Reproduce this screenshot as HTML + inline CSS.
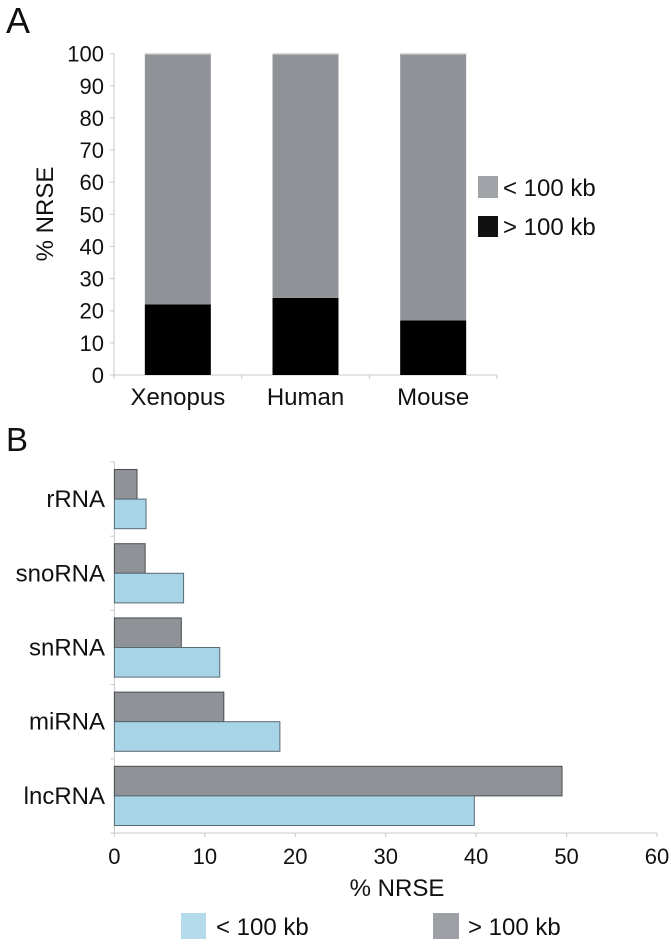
<!DOCTYPE html>
<html><head><meta charset="utf-8"><style>
body{margin:0;background:#fff;}
svg{display:block;font-family:"Liberation Sans",Arial,sans-serif;}
</style></head><body>
<svg id="fig" width="671" height="944" viewBox="0 0 671 944" xmlns="http://www.w3.org/2000/svg">
<text x="6" y="33" font-size="36" fill="#111">A</text>
<text x="6" y="451" font-size="33" fill="#111">B</text>
<g id="chartA"></g>
<g id="chartB"></g>
</svg>
<script>
const speciesA = ["Xenopus","Human","Mouse"];
const over100A = [22,24,17];
const under100A = [78,76,83];
const ticksA = [0,10,20,30,40,50,60,70,80,90,100];

const rnaB = ["rRNA","snoRNA","snRNA","miRNA","lncRNA"];
const over100B = [2.5,3.4,7.4,12.1,49.5];
const under100B = [3.5,7.65,11.65,18.3,39.8];
const ticksB = [0,10,20,30,40,50,60];

const NS="http://www.w3.org/2000/svg";
function mk(parent,tag,attrs,text){const e=document.createElementNS(NS,tag);for(const k in attrs)e.setAttribute(k,attrs[k]);if(text!==undefined)e.textContent=text;parent.appendChild(e);return e;}

// Chart A
(function(){
const g=document.getElementById('chartA');
const x0=114,x1=497,yTop=53.7,yBot=375;
const y=v=>yBot-(v/100)*(yBot-yTop);
const band=(x1-x0)/speciesA.length, bw=66;
let e=mk(g,'line',{x1:x0,y1:yTop,x2:x0,y2:yBot,stroke:'#c8c8c8','stroke-width':1});


e=mk(g,'line',{x1:x0,y1:yBot,x2:x1,y2:yBot,stroke:'#c8c8c8','stroke-width':1});


ticksA.forEach(t=>{
  mk(g,'line',{x1:x0-4,y1:y(t),x2:x0,y2:y(t),stroke:'#c8c8c8'});
  const tx=mk(g,'text',{x:104,y:y(t)+8,'font-size':22,'text-anchor':'end',fill:'#111'},String(t));
  
  
});
for(let i=0;i<=speciesA.length;i++){mk(g,'line',{x1:x0+i*band,y1:yBot,x2:x0+i*band,y2:yBot+4,stroke:'#c8c8c8'});}
speciesA.forEach((s,i)=>{
  const cx=x0+band*(i+0.5);
  const r1=mk(g,'rect',{x:cx-bw/2,y:y(over100A[i]),width:bw,height:yBot-y(over100A[i]),fill:'#000'});
  
  
  const top=over100A[i]+under100A[i];
  const r2=mk(g,'rect',{x:cx-bw/2,y:y(top),width:bw,height:y(over100A[i])-y(top),fill:'#8f9296'});
  
  
  mk(g,'line',{x1:cx-bw/2,y1:y(top),x2:cx+bw/2,y2:y(top),stroke:'#d8d8d8','stroke-width':1.5});
  const t=mk(g,'text',{x:cx,y:405,'font-size':24,'text-anchor':'middle',fill:'#111'},s);
  
  
});
const yt=mk(g,'text',{x:0,y:0,'font-size':24,'text-anchor':'middle',fill:'#111',transform:'translate(53,214) rotate(-90)'},'% NRSE');


let l=mk(g,'rect',{x:478,y:176,width:20,height:22,fill:'#a0a3a7'});


l=mk(g,'text',{x:503,y:196,'font-size':24,fill:'#111'},'< 100 kb');


l=mk(g,'rect',{x:478,y:216,width:20,height:21,fill:'#111'});


l=mk(g,'text',{x:503,y:235,'font-size':24,fill:'#111'},'> 100 kb');


})();

// Chart B
(function(){
const g=document.getElementById('chartB');
const x0=114.4,x1=657,yTop=462,yBot=833;
const x=v=>x0+(v/60)*(x1-x0);
const band=(yBot-yTop)/rnaB.length, bh=29.6;
let e=mk(g,'line',{x1:x0,y1:yTop,x2:x0,y2:yBot,stroke:'#c8c8c8'});


e=mk(g,'line',{x1:x0,y1:yBot,x2:x1,y2:yBot,stroke:'#c8c8c8'});


for(let i=0;i<=rnaB.length;i++){mk(g,'line',{x1:x0-4,y1:yTop+i*band,x2:x0,y2:yTop+i*band,stroke:'#c8c8c8'});}
ticksB.forEach(t=>{
  mk(g,'line',{x1:x(t),y1:yBot,x2:x(t),y2:yBot+4,stroke:'#c8c8c8'});
  const tx=mk(g,'text',{x:x(t),y:864,'font-size':22,'text-anchor':'middle',fill:'#111'},String(t));
  
  
});
rnaB.forEach((s,i)=>{
  const cy=yTop+band*(i+0.5);
  const r1=mk(g,'rect',{x:x0,y:cy-bh,width:x(over100B[i])-x0,height:bh,fill:'#8f9397',stroke:'#4a4d50','stroke-width':1});
  
  
  const r2=mk(g,'rect',{x:x0,y:cy,width:x(under100B[i])-x0,height:bh,fill:'#a8d4e8',stroke:'#5a6a72','stroke-width':1});
  
  
  const t=mk(g,'text',{x:105,y:cy+8,'font-size':24,'text-anchor':'end',fill:'#111'},s);
  
  
});
const xt=mk(g,'text',{x:397,y:896,'font-size':24,'text-anchor':'middle',fill:'#111'},'% NRSE');


let l=mk(g,'rect',{x:181,y:913,width:25,height:26,fill:'#b4dbeb'});


l=mk(g,'text',{x:216,y:935,'font-size':24,fill:'#111'},'< 100 kb');


l=mk(g,'rect',{x:433,y:913,width:26,height:26,fill:'#9c9fa4'});


l=mk(g,'text',{x:468,y:935,'font-size':24,fill:'#111'},'> 100 kb');


})();
</script>
</body></html>
